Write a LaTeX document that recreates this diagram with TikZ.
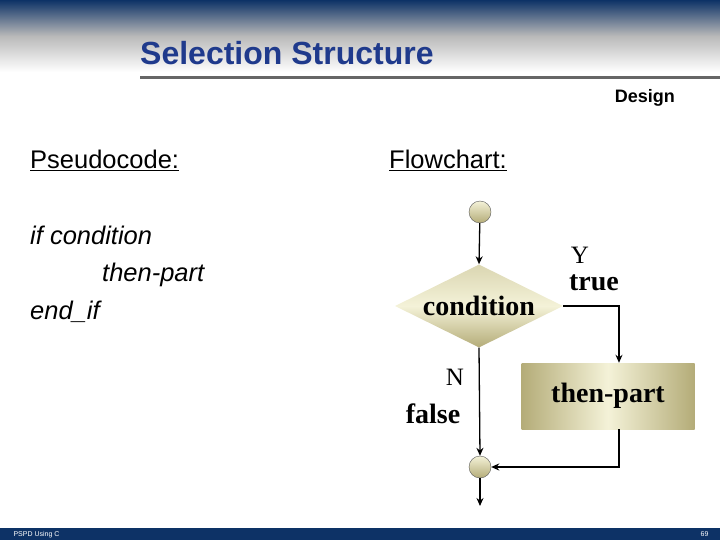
\documentclass[tikz,border=0pt]{standalone}
\usepackage{fontspec}
\setmainfont{Liberation Serif}
\setsansfont{Liberation Sans}
\usetikzlibrary{shapes.geometric,arrows.meta}
\definecolor{navy}{HTML}{0D3266}
\definecolor{titleblue}{HTML}{1F3A8C}
\definecolor{khakiL}{HTML}{F4F2D8}
\definecolor{khakiD}{HTML}{B4AC78}
\tikzset{
  flow/.style={-{Stealth[length=8pt,width=7pt]},line width=1.3pt},
  term/.style={circle,draw=gray!70!black,minimum size=22pt,inner sep=0pt,top color=khakiL,bottom color=khakiD},
  dec/.style={diamond,aspect=2.02,draw=none,inner sep=0pt,minimum width=168pt,minimum height=83pt,top color=khakiL!60!khakiD,bottom color=khakiD,middle color=khakiL,font=\bfseries\fontsize{28}{30}\selectfont},
  proc/.style={rectangle,draw=none,minimum width=173pt,minimum height=66pt,left color=khakiD,right color=khakiD,middle color=khakiL,font=\bfseries\fontsize{28}{30}\selectfont},
  lab/.style={font=\fontsize{25}{27}\selectfont},
  blab/.style={font=\bfseries\fontsize{28}{30}\selectfont},
  ps/.style={anchor=base west,inner sep=0pt,font=\sffamily\fontsize{25.5}{27}\selectfont},
  psi/.style={ps,font=\sffamily\itshape\fontsize{25.5}{27}\selectfont}
}
\begin{document}
\begin{tikzpicture}[x=1pt,y=-1pt]
\useasboundingbox (0,0) rectangle (720,540);
\fill[top color=navy,bottom color=white,middle color=gray!55] (0,0) rectangle (720,72);
\fill[gray!80!black] (140,76) rectangle (720,79);
\node[anchor=base west,inner sep=0pt,text=titleblue,font=\sffamily\bfseries\fontsize{32}{34}\selectfont] (title) at (140,65) {Selection Structure};
\node[anchor=base east,inner sep=0pt,font=\sffamily\bfseries\fontsize{18}{20}\selectfont] (design) at (675,103) {Design};
\fill[navy] (0,528) rectangle (720,540);
\node[anchor=west,text=white,font=\sffamily\fontsize{7}{8}\selectfont] (foot) at (10,534.5) {PSPD Using C};
\node[anchor=east,text=white,font=\sffamily\fontsize{7}{8}\selectfont] (pg) at (712,534.5) {69};
\node[ps] (pc) at (30,169) {\underline{Pseudocode:}};
\node[ps] (fc) at (389,169) {\underline{Flowchart:}};
\node[psi] (l1) at (30,244) {if condition};
\node[psi] (l2) at (102,281) {then-part};
\node[psi] (l3) at (30,319) {end\_if};
\node[term] (s) at (480,212) {};
\node[dec] (d) at (479,306) {condition};
\node[proc] (p) at (608,396) {then-part};
\node[term] (e) at (480,467) {};
\coordinate (endpt) at (480,506);
\draw[flow] (s) -- (d.north);
\draw[flow] (d.east) -| (p.north -| 619,0);
\draw[flow] (d.south) -- (e.north);
\draw[flow] (619,429) |- (e.east);
\draw[flow] (e.south) -- (endpt);
\node[lab] (Y) at (580,255) {Y};
\node[blab] (T) at (594,283) {true};
\node[lab] (N) at (455,377) {N};
\node[blab] (F) at (433,414) {false};
\end{tikzpicture}
\end{document}
